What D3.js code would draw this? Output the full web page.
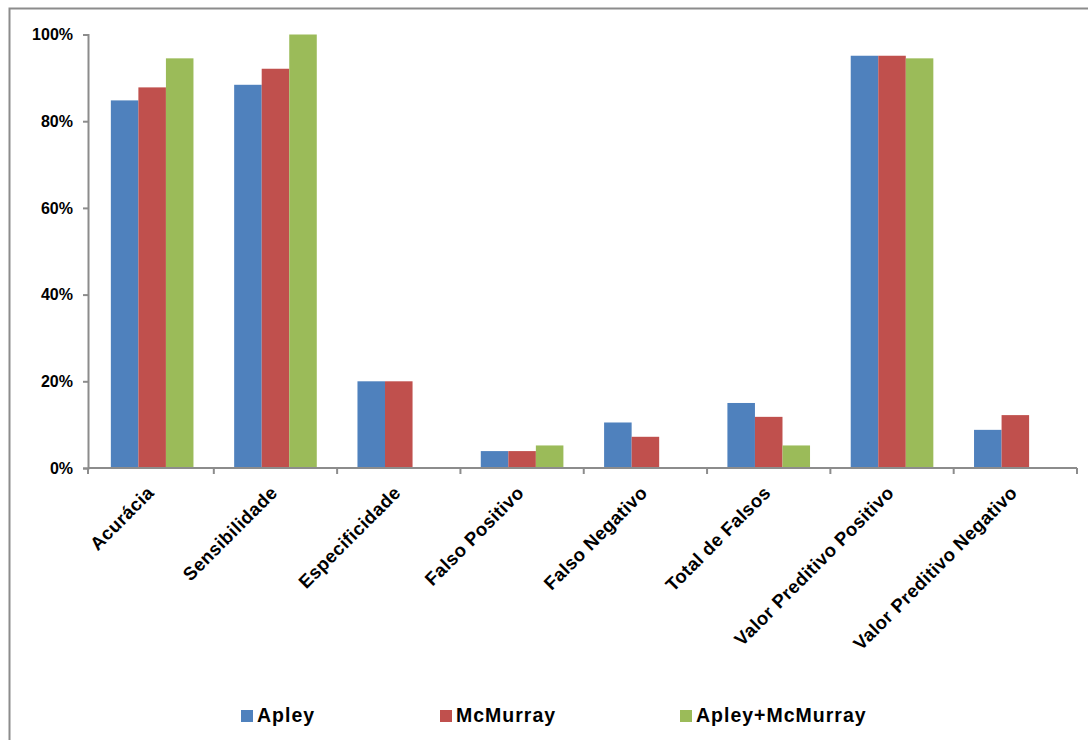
<!DOCTYPE html>
<html>
<head>
<meta charset="utf-8">
<script src="https://cdn.jsdelivr.net/npm/d3@7"></script>
<style>
  html, body { margin: 0; padding: 0; background: #fff; }
  svg { display: block; font-family: "Liberation Sans", Arial, sans-serif; font-weight: bold; }
</style>
</head>
<body>
<svg id="chart" width="1088" height="740"></svg>
<script>
// dados
const categories = ["Acurácia", "Sensibilidade", "Especificidade", "Falso Positivo",
    "Falso Negativo", "Total de Falsos", "Valor Preditivo Positivo", "Valor Preditivo Negativo"];
const seriesNames = ["Apley", "McMurray", "Apley+McMurray"];
const apley = [0.848, 0.884, 0.20, 0.039, 0.105, 0.150, 0.951, 0.088];
const mcmurray = [0.878, 0.921, 0.20, 0.039, 0.072, 0.118, 0.951, 0.122];
const apleyMcmurray = [0.945, 1.00, null, 0.052, null, 0.052, 0.945, null];
const yTicks = [0, 0.2, 0.4, 0.6, 0.8, 1.0];
const colors = ["#4F81BD", "#C0504D", "#9BBB59"];

function drawChart() {
    const svg = d3.select("#chart");
    const series = [apley, mcmurray, apleyMcmurray];

    // moldura externa (só esquerda e topo aparecem)
    svg.append("rect")
        .attr("x", 9.5)
        .attr("y", 8.5)
        .attr("width", 1200)
        .attr("height", 900)
        .attr("fill", "none")
        .attr("stroke", "#8c8c8c")
        .attr("stroke-width", 2);

    const left = 88, right = 1077, top = 34.5, bottom = 468;

    const x0 = d3.scaleBand()
        .domain(categories)
        .range([left + 2.5, right])
        .paddingInner(0.33)
        .paddingOuter(0.165);

    const x1 = d3.scaleBand()
        .domain(seriesNames)
        .range([0, x0.bandwidth()]);

    const y = d3.scaleLinear()
        .domain([0, 1])
        .range([bottom, top]);

    // barras
    const groups = svg.append("g")
        .selectAll("g")
        .data(categories)
        .enter().append("g")
        .attr("transform", d => `translate(${x0(d)},0)`);

    groups.selectAll("rect")
        .data((d, i) => seriesNames.map((s, j) => ({ s, j, v: series[j][i] })))
        .enter().filter(d => d.v !== null).append("rect")
        .attr("x", d => x1(d.s))
        .attr("y", d => y(d.v))
        .attr("width", x1.bandwidth())
        .attr("height", d => y(0) - y(d.v))
        .attr("fill", d => colors[d.j]);

    // eixo Y
    const yAxis = svg.append("g")
        .attr("transform", `translate(${left},0)`)
        .call(d3.axisLeft(y).tickValues(yTicks).tickFormat(d3.format(".0%")).tickSize(5).tickPadding(10));
    yAxis.select(".domain").attr("stroke", "#8c8c8c").attr("stroke-width", 2);
    yAxis.selectAll(".tick line").attr("stroke", "#8c8c8c").attr("stroke-width", 2);
    yAxis.selectAll(".tick text")
        .attr("fill", "#000")
        .style("font-size", "16px")
        .style("font-weight", "bold")
        .style("font-family", "'Liberation Sans', Arial, sans-serif");

    // eixo X: marcas nos limites das categorias
    const xAxis = svg.append("g").attr("transform", `translate(0,${bottom})`);
    xAxis.append("line")
        .attr("x1", left).attr("x2", right)
        .attr("stroke", "#8c8c8c").attr("stroke-width", 2);
    const bounds = categories.slice(1).map(c => x0(c) - x0.step() * x0.paddingInner() / 2);
    bounds.unshift(left);
    bounds.push(right);
    xAxis.selectAll(".xtick")
        .data(bounds)
        .enter().append("line")
        .attr("class", "xtick")
        .attr("x1", d => d).attr("x2", d => d)
        .attr("y1", 0).attr("y2", 6)
        .attr("stroke", "#8c8c8c").attr("stroke-width", 2);

    xAxis.selectAll(".xlabel")
        .data(categories)
        .enter().append("text")
        .attr("class", "xlabel")
        .attr("text-anchor", "end")
        .attr("transform", d => `translate(${x0(d) + x0.bandwidth() / 2 + 3},26) rotate(-45)`)
        .style("font-size", "18.5px")
        .style("letter-spacing", "0.4px")
        .text(d => d);

    // legenda
    const legendX = [241, 440, 680];
    const legend = svg.append("g")
        .selectAll("g")
        .data(seriesNames)
        .enter().append("g")
        .attr("transform", (d, i) => `translate(${legendX[i]},710)`);
    legend.append("rect")
        .attr("width", 12)
        .attr("height", 12)
        .attr("fill", (d, i) => colors[i]);
    legend.append("text")
        .attr("x", 16)
        .attr("y", 12)
        .style("font-size", "19.5px")
        .style("letter-spacing", "1px")
        .text(d => d);
}

drawChart();
</script>
</body>
</html>
